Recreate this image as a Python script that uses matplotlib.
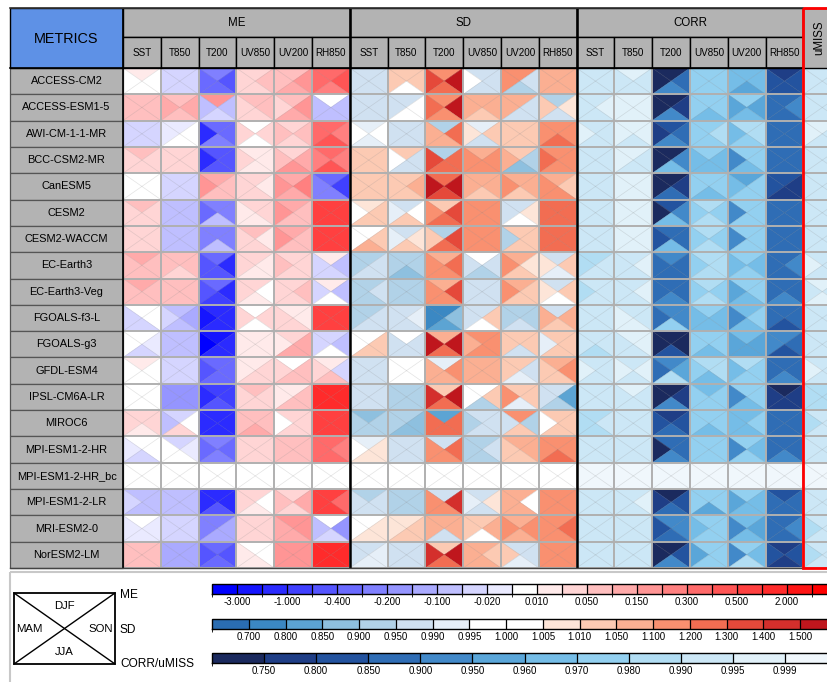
import numpy as np
import matplotlib
matplotlib.use("Agg")
import matplotlib.pyplot as plt
from matplotlib.collections import PolyCollection, LineCollection
from matplotlib.colors import ListedColormap, BoundaryNorm
from matplotlib.patches import Rectangle
from matplotlib.cm import ScalarMappable

plt.rcParams['font.family'] = ['Liberation Sans', 'DejaVu Sans']

# ---------------------------------------------------------------- data
models = ["ACCESS-CM2", "ACCESS-ESM1-5", "AWI-CM-1-1-MR", "BCC-CSM2-MR", "CanESM5",
          "CESM2", "CESM2-WACCM", "EC-Earth3", "EC-Earth3-Veg", "FGOALS-f3-L",
          "FGOALS-g3", "GFDL-ESM4", "IPSL-CM6A-LR", "MIROC6", "MPI-ESM1-2-HR",
          "MPI-ESM1-2-HR_bc", "MPI-ESM1-2-LR", "MRI-ESM2-0", "NorESM2-LM"]
variables = ["SST", "T850", "T200", "UV850", "UV200", "RH850"]
metrics = ["ME", "SD", "CORR"]
seasons = ["DJF", "MAM", "SON", "JJA"]

# mean error (rows: models, cols: variables)
ME_DJF = [[0.015, -0.03, -0.25, 0.03, 0.07, 0.35],
          [0.07, 0.07, 0.17, 0.07, 0.07, 0.0],
          [-0.03, -0.015, -0.35, 0.0, 0.03, 0.35],
          [0.07, 0.03, -0.45, 0.015, 0.03, 0.35],
          [0.0, -0.03, 0.12, 0.03, 0.12, -0.35],
          [0.07, -0.07, -0.25, 0.03, 0.12, 0.7],
          [0.03, -0.07, -0.25, 0.07, 0.12, 0.7],
          [0.12, 0.07, -0.35, 0.03, 0.03, 0.015],
          [0.12, 0.07, -0.35, 0.03, 0.03, 0.015],
          [0.0, -0.07, -1.5, 0.0, 0.015, 0.7],
          [0.0, -0.07, -2.5, 0.015, 0.03, -0.03],
          [0.015, -0.03, -0.35, 0.015, 0.0, 0.015],
          [0.0, -0.17, -0.7, 0.07, 0.015, 1.5],
          [0.03, -0.03, -1.5, 0.07, 0.03, 0.7],
          [0.0, -0.03, -0.25, 0.03, 0.07, 0.35],
          [0.0, 0.0, 0.0, 0.0, 0.0, 0.0],
          [-0.07, -0.07, -1.5, 0.03, 0.03, 0.7],
          [0.0, -0.03, -0.25, 0.03, 0.17, 0.0],
          [0.07, -0.12, -0.35, 0.0, 0.17, 1.5]]
ME_MAM = [[0.0, -0.03, -0.35, 0.03, 0.07, 0.35],
          [0.07, 0.12, -0.07, 0.03, 0.03, -0.07],
          [-0.03, -0.015, -1.5, 0.03, 0.07, 0.35],
          [0.03, 0.03, -1.5, 0.03, 0.07, 0.25],
          [0.0, -0.03, 0.17, 0.03, 0.17, -0.25],
          [0.03, -0.07, -0.35, 0.015, 0.17, 0.7],
          [0.03, -0.07, -0.25, 0.03, 0.17, 0.7],
          [0.07, 0.07, -0.45, 0.03, 0.07, -0.03],
          [0.07, 0.07, -0.45, 0.03, 0.03, -0.03],
          [-0.03, -0.03, -2.5, 0.03, 0.03, 0.7],
          [0.0, -0.07, -3.5, 0.015, 0.015, -0.03],
          [0.0, -0.03, -0.45, 0.015, 0.03, 0.03],
          [0.0, -0.17, -1.5, 0.03, 0.015, 1.5],
          [0.03, -0.07, -1.5, 0.07, 0.0, 0.7],
          [-0.015, 0.0, -0.35, 0.03, 0.07, 0.35],
          [0.0, 0.0, 0.0, 0.0, 0.0, 0.0],
          [-0.03, -0.07, -1.5, 0.03, 0.07, 0.7],
          [-0.015, -0.03, -0.25, 0.03, 0.12, -0.07],
          [0.07, -0.12, -0.45, 0.015, 0.17, 1.5]]
ME_SON = [[0.0, -0.03, -0.45, 0.07, 0.17, 0.45],
          [0.07, 0.12, -0.07, 0.07, 0.17, -0.07],
          [-0.03, 0.0, -0.35, 0.03, 0.07, 0.25],
          [0.03, 0.03, -0.45, 0.015, 0.12, 0.25],
          [0.0, -0.03, 0.07, 0.015, 0.25, -0.7],
          [0.03, -0.07, -0.25, 0.03, 0.07, 0.7],
          [0.03, -0.07, -0.25, 0.015, 0.07, 0.7],
          [0.07, 0.07, -1.5, 0.015, 0.03, -0.07],
          [0.07, 0.07, -1.5, 0.0, 0.07, -0.07],
          [0.0, -0.12, -1.5, 0.03, 0.015, 0.7],
          [-0.015, -0.07, -1.5, 0.015, 0.12, -0.07],
          [0.0, -0.03, -0.35, 0.03, 0.07, -0.03],
          [0.0, -0.17, -0.7, 0.03, 0.07, 1.5],
          [0.03, 0.0, -1.5, 0.07, 0.03, 0.7],
          [0.0, -0.015, -0.35, 0.03, 0.07, 0.25],
          [0.0, 0.0, 0.0, 0.0, 0.0, 0.0],
          [-0.07, -0.07, -1.5, 0.0, 0.12, 0.35],
          [-0.015, -0.03, -0.12, 0.03, 0.17, -0.17],
          [0.07, -0.12, -0.45, 0.0, 0.17, 1.5]]
ME_JJA = [[0.0, -0.03, -0.35, 0.03, 0.12, 0.25],
          [0.07, 0.07, -0.03, 0.03, 0.12, -0.07],
          [-0.03, 0.0, -0.25, 0.0, 0.03, 0.45],
          [0.03, 0.03, -0.45, 0.015, 0.17, 0.45],
          [0.0, -0.03, 0.07, 0.03, 0.12, -0.25],
          [0.03, -0.07, -0.07, 0.015, 0.07, 0.7],
          [0.03, -0.07, -0.07, 0.03, 0.07, 0.7],
          [0.07, 0.03, -0.45, 0.015, 0.03, -0.03],
          [0.07, 0.07, -0.7, 0.015, 0.03, 0.0],
          [-0.03, -0.07, -1.5, 0.0, 0.03, 0.7],
          [-0.03, -0.07, -1.5, 0.015, 0.12, 0.0],
          [0.0, -0.03, -0.35, 0.03, 0.07, 0.07],
          [0.0, -0.17, -0.45, 0.03, 0.07, 1.5],
          [0.015, 0.03, -1.5, 0.12, 0.03, 0.7],
          [-0.03, 0.0, -0.25, 0.03, 0.07, 0.35],
          [0.0, 0.0, 0.0, 0.0, 0.0, 0.0],
          [-0.07, -0.07, -0.45, 0.015, 0.03, 0.7],
          [-0.015, -0.03, -0.12, 0.03, 0.12, -0.03],
          [0.07, -0.12, -0.35, 0.015, 0.17, 1.5]]

# standard deviation ratio
SD_DJF = [[0.97, 1.03, 1.15, 0.97, 1.15, 1.07],
          [0.97, 0.97, 1.15, 1.07, 1.07, 0.92],
          [0.992, 0.97, 0.92, 0.992, 1.03, 1.15],
          [1.03, 1.03, 0.92, 1.07, 1.03, 1.15],
          [1.03, 1.03, 1.25, 1.07, 1.07, 1.07],
          [1.007, 0.97, 1.03, 1.15, 0.97, 1.25],
          [0.998, 0.97, 0.92, 1.15, 1.03, 1.25],
          [0.92, 0.92, 1.07, 0.998, 1.07, 0.97],
          [0.92, 0.92, 1.07, 0.97, 1.07, 0.97],
          [0.92, 0.97, 0.75, 0.97, 0.92, 0.97],
          [0.998, 0.998, 1.07, 1.15, 1.03, 1.03],
          [0.97, 0.998, 0.992, 1.07, 1.03, 1.07],
          [0.97, 0.92, 1.03, 0.998, 1.03, 0.97],
          [0.87, 0.92, 0.82, 0.97, 1.15, 1.03],
          [0.992, 0.97, 0.97, 0.92, 1.07, 1.15],
          [1.0, 1.0, 1.0, 1.0, 1.0, 1.0],
          [0.92, 0.92, 0.97, 0.97, 1.07, 1.15],
          [0.998, 1.007, 1.07, 1.03, 1.07, 1.15],
          [0.97, 0.97, 1.03, 1.07, 0.97, 1.15]]
SD_MAM = [[0.97, 1.03, 1.35, 0.998, 1.15, 1.07],
          [0.97, 0.97, 1.25, 1.07, 1.07, 1.03],
          [0.998, 0.97, 1.07, 1.007, 1.03, 1.15],
          [1.03, 0.998, 1.35, 1.15, 1.07, 1.25],
          [1.03, 1.03, 1.6, 1.07, 1.15, 1.15],
          [0.998, 0.992, 1.15, 1.15, 0.97, 1.25],
          [0.998, 0.992, 1.03, 1.15, 0.92, 1.25],
          [0.92, 0.92, 1.15, 0.97, 1.15, 1.007],
          [0.92, 0.92, 1.15, 0.97, 1.15, 1.007],
          [0.92, 0.97, 0.75, 0.97, 0.92, 1.07],
          [0.998, 0.97, 1.6, 1.07, 1.03, 0.992],
          [0.97, 0.998, 1.07, 1.07, 1.03, 1.03],
          [0.97, 0.92, 1.45, 0.998, 1.15, 0.97],
          [0.92, 0.92, 1.25, 0.92, 0.97, 0.998],
          [0.998, 0.97, 1.15, 0.92, 1.03, 1.15],
          [1.0, 1.0, 1.0, 1.0, 1.0, 1.0],
          [0.97, 0.92, 1.15, 0.992, 1.07, 1.15],
          [0.998, 1.007, 1.07, 1.03, 1.15, 1.15],
          [0.97, 0.97, 1.45, 1.07, 1.03, 1.15]]
SD_SON = [[0.97, 1.03, 1.6, 0.97, 0.97, 1.07],
          [0.97, 0.998, 1.6, 1.07, 0.97, 1.007],
          [0.998, 0.97, 1.25, 1.03, 1.03, 1.15],
          [1.03, 0.97, 1.25, 1.15, 0.92, 1.15],
          [1.03, 1.07, 1.6, 1.07, 1.07, 1.03],
          [1.03, 0.998, 1.35, 1.15, 1.007, 1.25],
          [1.03, 1.007, 1.35, 1.15, 1.03, 1.25],
          [0.97, 0.92, 1.25, 0.97, 1.007, 1.03],
          [0.97, 0.92, 1.35, 0.97, 1.03, 1.03],
          [0.97, 0.992, 0.87, 1.03, 0.92, 1.07],
          [1.03, 0.97, 1.6, 1.15, 1.03, 1.03],
          [0.97, 0.998, 1.15, 1.07, 0.97, 1.15],
          [0.97, 0.92, 1.6, 1.03, 1.03, 0.82],
          [0.92, 0.87, 1.25, 0.97, 0.92, 1.03],
          [1.007, 0.97, 1.25, 0.97, 1.07, 1.15],
          [1.0, 1.0, 1.0, 1.0, 1.0, 1.0],
          [0.97, 0.92, 1.45, 1.007, 0.998, 1.15],
          [1.007, 1.03, 1.07, 1.07, 1.15, 1.25],
          [0.992, 0.97, 1.6, 1.03, 0.97, 1.15]]
SD_JJA = [[0.97, 0.998, 1.25, 0.97, 0.92, 1.07],
          [0.97, 0.998, 1.15, 1.03, 0.97, 0.97],
          [0.992, 0.97, 1.07, 0.97, 1.03, 1.25],
          [1.03, 0.97, 1.25, 1.15, 0.87, 1.15],
          [1.03, 1.03, 1.35, 1.03, 1.03, 1.15],
          [1.03, 1.03, 1.25, 1.15, 0.998, 1.25],
          [1.07, 1.03, 1.25, 1.15, 1.03, 1.25],
          [0.97, 0.87, 1.15, 0.92, 1.03, 0.992],
          [0.92, 0.92, 1.15, 0.97, 1.03, 0.998],
          [0.97, 0.97, 0.82, 0.998, 0.97, 1.03],
          [1.03, 0.97, 1.25, 1.15, 0.97, 1.03],
          [0.97, 0.998, 1.07, 1.07, 0.992, 1.03],
          [0.97, 0.92, 1.25, 0.92, 0.992, 0.92],
          [0.92, 0.87, 1.25, 0.97, 1.03, 1.03],
          [1.007, 0.97, 1.15, 0.92, 1.03, 1.25],
          [1.0, 1.0, 1.0, 1.0, 1.0, 1.0],
          [0.97, 0.92, 1.15, 0.97, 1.07, 1.15],
          [1.007, 1.03, 0.97, 0.998, 1.07, 1.15],
          [0.992, 0.97, 1.25, 1.07, 0.992, 1.15]]

# pattern correlation
CORR_DJF = [[0.992, 0.997, 0.72, 0.975, 0.965, 0.77],
            [0.992, 0.997, 0.72, 0.975, 0.975, 0.87],
            [0.992, 0.997, 0.82, 0.975, 0.985, 0.87],
            [0.992, 0.997, 0.72, 0.975, 0.975, 0.87],
            [0.992, 0.997, 0.72, 0.975, 0.955, 0.82],
            [0.992, 0.997, 0.82, 0.985, 0.975, 0.87],
            [0.992, 0.997, 0.87, 0.985, 0.975, 0.87],
            [0.985, 0.992, 0.92, 0.985, 0.975, 0.87],
            [0.992, 0.992, 0.87, 0.985, 0.975, 0.87],
            [0.992, 0.992, 0.92, 0.975, 0.965, 0.87],
            [0.992, 0.997, 0.72, 0.975, 0.965, 0.92],
            [0.992, 0.992, 0.92, 0.985, 0.985, 0.87],
            [0.992, 0.997, 0.72, 0.965, 0.975, 0.72],
            [0.985, 0.992, 0.77, 0.975, 0.965, 0.87],
            [0.992, 0.992, 0.87, 0.975, 0.975, 0.87],
            [1.0, 1.0, 1.0, 1.0, 1.0, 1.0],
            [0.992, 0.992, 0.72, 0.975, 0.975, 0.82],
            [0.992, 0.992, 0.92, 0.975, 0.965, 0.87],
            [0.992, 0.992, 0.72, 0.975, 0.975, 0.77]]
CORR_MAM = [[0.992, 0.992, 0.72, 0.975, 0.965, 0.82],
            [0.992, 0.997, 0.72, 0.975, 0.955, 0.87],
            [0.997, 0.997, 0.77, 0.975, 0.965, 0.87],
            [0.992, 0.997, 0.72, 0.965, 0.92, 0.87],
            [0.992, 0.997, 0.72, 0.975, 0.965, 0.82],
            [0.992, 0.997, 0.72, 0.975, 0.92, 0.87],
            [0.992, 0.997, 0.82, 0.975, 0.92, 0.87],
            [0.985, 0.992, 0.87, 0.975, 0.965, 0.87],
            [0.985, 0.992, 0.87, 0.975, 0.955, 0.87],
            [0.992, 0.997, 0.87, 0.965, 0.92, 0.87],
            [0.992, 0.992, 0.72, 0.975, 0.955, 0.92],
            [0.997, 0.997, 0.87, 0.975, 0.965, 0.87],
            [0.992, 0.992, 0.72, 0.975, 0.92, 0.77],
            [0.985, 0.992, 0.82, 0.975, 0.965, 0.87],
            [0.992, 0.992, 0.72, 0.975, 0.92, 0.87],
            [1.0, 1.0, 1.0, 1.0, 1.0, 1.0],
            [0.992, 0.992, 0.77, 0.975, 0.955, 0.87],
            [0.992, 0.992, 0.82, 0.965, 0.92, 0.87],
            [0.992, 0.992, 0.72, 0.955, 0.92, 0.82]]
CORR_SON = [[0.992, 0.992, 0.87, 0.975, 0.965, 0.82],
            [0.997, 0.997, 0.77, 0.975, 0.955, 0.92],
            [0.992, 0.997, 0.87, 0.985, 0.985, 0.87],
            [0.992, 0.992, 0.92, 0.965, 0.975, 0.87],
            [0.992, 0.997, 0.77, 0.975, 0.975, 0.77],
            [0.992, 0.997, 0.92, 0.975, 0.975, 0.87],
            [0.992, 0.997, 0.87, 0.975, 0.975, 0.87],
            [0.992, 0.997, 0.87, 0.985, 0.965, 0.92],
            [0.992, 0.997, 0.87, 0.975, 0.975, 0.87],
            [0.992, 0.992, 0.92, 0.965, 0.975, 0.87],
            [0.992, 0.997, 0.72, 0.975, 0.955, 0.87],
            [0.992, 0.997, 0.955, 0.985, 0.975, 0.87],
            [0.992, 0.992, 0.77, 0.975, 0.975, 0.77],
            [0.992, 0.992, 0.82, 0.975, 0.975, 0.87],
            [0.992, 0.992, 0.87, 0.975, 0.965, 0.87],
            [1.0, 1.0, 1.0, 1.0, 1.0, 1.0],
            [0.992, 0.997, 0.82, 0.975, 0.965, 0.87],
            [0.992, 0.992, 0.92, 0.975, 0.955, 0.92],
            [0.992, 0.992, 0.82, 0.975, 0.965, 0.82]]
CORR_JJA = [[0.992, 0.992, 0.92, 0.975, 0.955, 0.82],
            [0.992, 0.997, 0.92, 0.965, 0.965, 0.87],
            [0.992, 0.992, 0.92, 0.975, 0.975, 0.87],
            [0.992, 0.992, 0.965, 0.965, 0.965, 0.87],
            [0.992, 0.997, 0.87, 0.965, 0.975, 0.77],
            [0.992, 0.997, 0.965, 0.985, 0.975, 0.87],
            [0.992, 0.997, 0.965, 0.985, 0.975, 0.87],
            [0.992, 0.992, 0.87, 0.985, 0.975, 0.87],
            [0.992, 0.992, 0.92, 0.985, 0.965, 0.92],
            [0.992, 0.997, 0.975, 0.965, 0.965, 0.82],
            [0.985, 0.992, 0.82, 0.965, 0.955, 0.82],
            [0.992, 0.992, 0.985, 0.965, 0.975, 0.92],
            [0.992, 0.992, 0.92, 0.975, 0.965, 0.77],
            [0.985, 0.992, 0.87, 0.965, 0.965, 0.87],
            [0.992, 0.992, 0.92, 0.975, 0.975, 0.92],
            [1.0, 1.0, 1.0, 1.0, 1.0, 1.0],
            [0.992, 0.992, 0.87, 0.955, 0.965, 0.87],
            [0.992, 0.992, 0.87, 0.975, 0.965, 0.87],
            [0.992, 0.992, 0.92, 0.975, 0.985, 0.77]]

# overall score column
UMISS_DJF = [0.992, 0.992, 0.997, 0.992, 0.992, 0.992, 0.992, 0.992, 0.997, 0.992,
             0.992, 0.992, 0.985, 0.992, 0.992, 1.0, 0.992, 0.992, 0.992]
UMISS_MAM = [0.992, 0.992, 0.997, 0.992, 0.992, 0.992, 0.992, 0.997, 0.992, 0.992,
             0.992, 0.997, 0.985, 0.985, 0.992, 1.0, 0.992, 0.985, 0.985]
UMISS_SON = [0.992, 0.992, 0.992, 0.992, 0.992, 0.992, 0.992, 0.992, 0.992, 0.992,
             0.992, 0.992, 0.985, 0.992, 0.992, 1.0, 0.992, 0.992, 0.992]
UMISS_JJA = [0.992, 0.992, 0.992, 0.992, 0.992, 0.992, 0.992, 0.992, 0.997, 0.992,
             0.992, 0.992, 0.985, 0.992, 0.992, 1.0, 0.992, 0.992, 0.992]

# class boundaries of the three colour scales
ME_LEVELS = [-3, -2, -1, -0.5, -0.4, -0.3, -0.2, -0.15, -0.1, -0.05, -0.02, -0.01,
             0.01, 0.02, 0.05, 0.1, 0.15, 0.2, 0.3, 0.4, 0.5, 1, 2, 3]
SD_LEVELS = [0.7, 0.8, 0.85, 0.9, 0.95, 0.99, 0.995, 1.0, 1.005, 1.01, 1.05,
             1.1, 1.2, 1.3, 1.4, 1.5]
CORR_LEVELS = [0.75, 0.8, 0.85, 0.9, 0.95, 0.96, 0.97, 0.98, 0.99, 0.995, 0.999]

# ---------------------------------------------------------------- colours
def me_colors():
    cols = []
    for k in range(12, 0, -1):
        v = (255 - k * 21.25) / 255.0
        cols.append((v, v, 1.0))
    cols.append((1.0, 1.0, 1.0))
    for k in range(1, 13):
        v = (255 - k * 21.25) / 255.0
        cols.append((1.0, v, v))
    return cols

SD_COLORS = ['#2a6db2', '#3b88c3', '#5ca4d3', '#8ec0df', '#b1d2e8', '#d0e1f1',
             '#e6eff8', '#ffffff', '#ffffff', '#fde5d8', '#fccab3', '#fbaf92',
             '#f99070', '#f26d52', '#e5493a', '#d42f2c', '#bf161d']
CORR_COLORS = ['#1b2a5e', '#1f3e86', '#23539f', '#2f6db5', '#4289c9', '#5aa6d9',
               '#75bde7', '#93d0f0', '#b1ddf3', '#cce7f6', '#e1f1f9', '#f0f7fc']

scales = {
    "ME": (ME_LEVELS, me_colors(), -4.0, 4.0),
    "SD": (SD_LEVELS, SD_COLORS, 0.6, 1.7),
    "CORR": (CORR_LEVELS, CORR_COLORS, 0.7, 1.0001),
}
cmaps, norms = {}, {}
for key, (lev, cols, lo, hi) in scales.items():
    bounds = [lo] + list(lev) + [hi]
    cmaps[key] = ListedColormap(cols)
    norms[key] = BoundaryNorm(bounds, len(cols))

tables = {
    "ME": {"DJF": ME_DJF, "MAM": ME_MAM, "SON": ME_SON, "JJA": ME_JJA},
    "SD": {"DJF": SD_DJF, "MAM": SD_MAM, "SON": SD_SON, "JJA": SD_JJA},
    "CORR": {"DJF": CORR_DJF, "MAM": CORR_MAM, "SON": CORR_SON, "JJA": CORR_JJA},
}
umiss = {"DJF": UMISS_DJF, "MAM": UMISS_MAM, "SON": UMISS_SON, "JJA": UMISS_JJA}

# ---------------------------------------------------------------- layout (pixels)
W, H = 827, 682
X_LAB, X_GRID, CW = 10, 123, 37.8
Y_TOP, Y_SUB, Y_GRID = 8, 37, 68
RH = (568 - 68) / len(models)
GRAY = '#b3b3b3'

fig = plt.figure(figsize=(W / 100, H / 100), dpi=100)
ax = fig.add_axes([0, 0, 1, 1])
ax.set_xlim(0, W)
ax.set_ylim(H, 0)
ax.axis('off')


def triangles(x0, y0, w, h):
    xc, yc, x1, y1 = x0 + w / 2, y0 + h / 2, x0 + w, y0 + h
    return {"DJF": [(x0, y0), (x1, y0), (xc, yc)],
            "MAM": [(x0, y0), (x0, y1), (xc, yc)],
            "SON": [(x1, y0), (x1, y1), (xc, yc)],
            "JJA": [(x0, y1), (x1, y1), (xc, yc)]}


polys, fcols, diags = [], [], []
ncol_total = len(metrics) * len(variables) + 1
for i in range(len(models)):
    y0 = Y_GRID + i * RH
    for c in range(ncol_total):
        x0 = X_GRID + c * CW
        tri = triangles(x0, y0, CW, RH)
        if c < 18:
            key = metrics[c // 6]
            j = c % 6
        else:
            key = "CORR"
        for s in seasons:
            val = tables[key][s][i][j] if c < 18 else umiss[s][i]
            polys.append(tri[s])
            fcols.append(cmaps[key](norms[key](val)))
        diags.append([(x0, y0), (x0 + CW, y0 + RH)])
        diags.append([(x0 + CW, y0), (x0, y0 + RH)])

ax.add_collection(PolyCollection(polys, facecolors=fcols, edgecolors='face',
                                 linewidths=0.3, zorder=1))
ax.add_collection(LineCollection(diags, colors=[(0.45, 0.45, 0.45, 0.2)],
                                 linewidths=0.5, zorder=2))

# cell grid
x_end = X_GRID + ncol_total * CW
grid = []
for i in range(len(models) + 1):
    y = Y_GRID + i * RH
    grid.append([(X_GRID, y), (x_end, y)])
for c in range(ncol_total + 1):
    x = X_GRID + c * CW
    grid.append([(x, Y_GRID), (x, 568)])
ax.add_collection(LineCollection(grid, colors='#b0b0b0', linewidths=1.4, zorder=3))

# model label column
for i, name in enumerate(models):
    y0 = Y_GRID + i * RH
    ax.add_patch(Rectangle((X_LAB, y0), X_GRID - X_LAB, RH, facecolor=GRAY,
                           edgecolor='#555555', linewidth=0.9, zorder=4))
    ax.text((X_LAB + X_GRID) / 2, y0 + RH / 2, name, ha='center', va='center',
            fontsize=7.9, zorder=5)

# header
ax.add_patch(Rectangle((X_LAB, Y_TOP), X_GRID - X_LAB, Y_GRID - Y_TOP,
                       facecolor='#5e91e6', edgecolor='black', linewidth=1.0, zorder=4))
ax.text((X_LAB + X_GRID) / 2, (Y_TOP + Y_GRID) / 2 + 1, "METRICS", ha='center',
        va='center', fontsize=10.4, zorder=5)
for m, name in enumerate(metrics):
    xm = X_GRID + m * 6 * CW
    ax.add_patch(Rectangle((xm, Y_TOP), 6 * CW, Y_SUB - Y_TOP, facecolor=GRAY,
                           edgecolor='black', linewidth=1.0, zorder=4))
    ax.text(xm + 3 * CW, (Y_TOP + Y_SUB) / 2, name, ha='center', va='center',
            fontsize=8.3, zorder=5)
    for j, var in enumerate(variables):
        xv = xm + j * CW
        ax.add_patch(Rectangle((xv, Y_SUB), CW, Y_GRID - Y_SUB, facecolor=GRAY,
                               edgecolor='black', linewidth=1.0, zorder=4))
        ax.text(xv + CW / 2, (Y_SUB + Y_GRID) / 2, var, ha='center', va='center',
                fontsize=7.1, zorder=5)
xu = X_GRID + 18 * CW
ax.add_patch(Rectangle((xu, Y_TOP), CW, Y_GRID - Y_TOP, facecolor=GRAY,
                       edgecolor='black', linewidth=1.0, zorder=4))
ax.text(xu + CW / 2 - 3, (Y_TOP + Y_GRID) / 2, "uMISS", ha='center', va='center',
        rotation=90, fontsize=8.3, zorder=5)

# block separators and frame
for m in range(3):
    x = X_GRID + m * 6 * CW
    ax.plot([x, x], [Y_TOP, 568], color='black', lw=1.8 if m else 1.2, zorder=6,
            solid_capstyle='butt')
ax.plot([X_LAB, xu], [568, 568], color='#444444', lw=1.0, zorder=6)
ax.plot([X_LAB, xu], [Y_GRID, Y_GRID], color='black', lw=1.2, zorder=6)
ax.plot([X_LAB, xu], [Y_TOP, Y_TOP], color='#333333', lw=1.2, zorder=6)
ax.add_patch(Rectangle((xu, Y_TOP), CW, 568 - Y_TOP, fill=False, edgecolor='red',
                       linewidth=2.0, zorder=7))

# ---------------------------------------------------------------- legend panel
ax.add_patch(Rectangle((X_LAB, 572), 840, 130, fill=False, edgecolor='#c8c8c8',
                       linewidth=1.5, zorder=2))
bx0, by0, bx1, by1 = 14, 593, 115, 664
ax.add_patch(Rectangle((bx0, by0), bx1 - bx0, by1 - by0, fill=False,
                       edgecolor='black', linewidth=1.3, zorder=3))
ax.plot([bx0, bx1], [by0, by1], color='black', lw=1.0, zorder=3)
ax.plot([bx0, bx1], [by1, by0], color='black', lw=1.0, zorder=3)
bxc, byc = (bx0 + bx1) / 2, (by0 + by1) / 2
ax.text(bxc, by0 + 13, "DJF", ha='center', va='center', fontsize=8.2)
ax.text(bxc, by1 - 12, "JJA", ha='center', va='center', fontsize=8.2)
ax.text(bx0 + 2, byc + 1, "MAM", ha='left', va='center', fontsize=8.2)
ax.text(bx1 - 2, byc + 1, "SON", ha='right', va='center', fontsize=8.2)
ax.text(120, 595, "ME", ha='left', va='center', fontsize=8.6)
ax.text(120, 630, "SD", ha='left', va='center', fontsize=8.6)
ax.text(120, 664, "CORR/uMISS", ha='left', va='center', fontsize=8.6)


def colorbar(key, top_px, ticks, labels):
    lev, cols, lo, hi = scales[key]
    cax = fig.add_axes([212 / W, 1 - (top_px + 10) / H, 625 / W, 10 / H])
    bounds = [lo] + list(lev) + [hi]
    sm = ScalarMappable(norm=norms[key], cmap=cmaps[key])
    cb = fig.colorbar(sm, cax=cax, orientation='horizontal', boundaries=bounds,
                      spacing='uniform', ticks=ticks, drawedges=True)
    cb.outline.set_linewidth(1.0)
    cb.dividers.set_color('black')
    cb.dividers.set_linewidth(0.9)
    cb.set_ticklabels(labels)
    cax.tick_params(length=0, labelsize=7, pad=2.5)


me_ticks = ME_LEVELS[::2]
colorbar("ME", 584, me_ticks, ["%.3f" % t for t in me_ticks])
colorbar("SD", 619, SD_LEVELS, ["%.3f" % t for t in SD_LEVELS])
colorbar("CORR", 653, CORR_LEVELS, ["%.3f" % t for t in CORR_LEVELS])

fig.savefig("out.png", dpi=100)
